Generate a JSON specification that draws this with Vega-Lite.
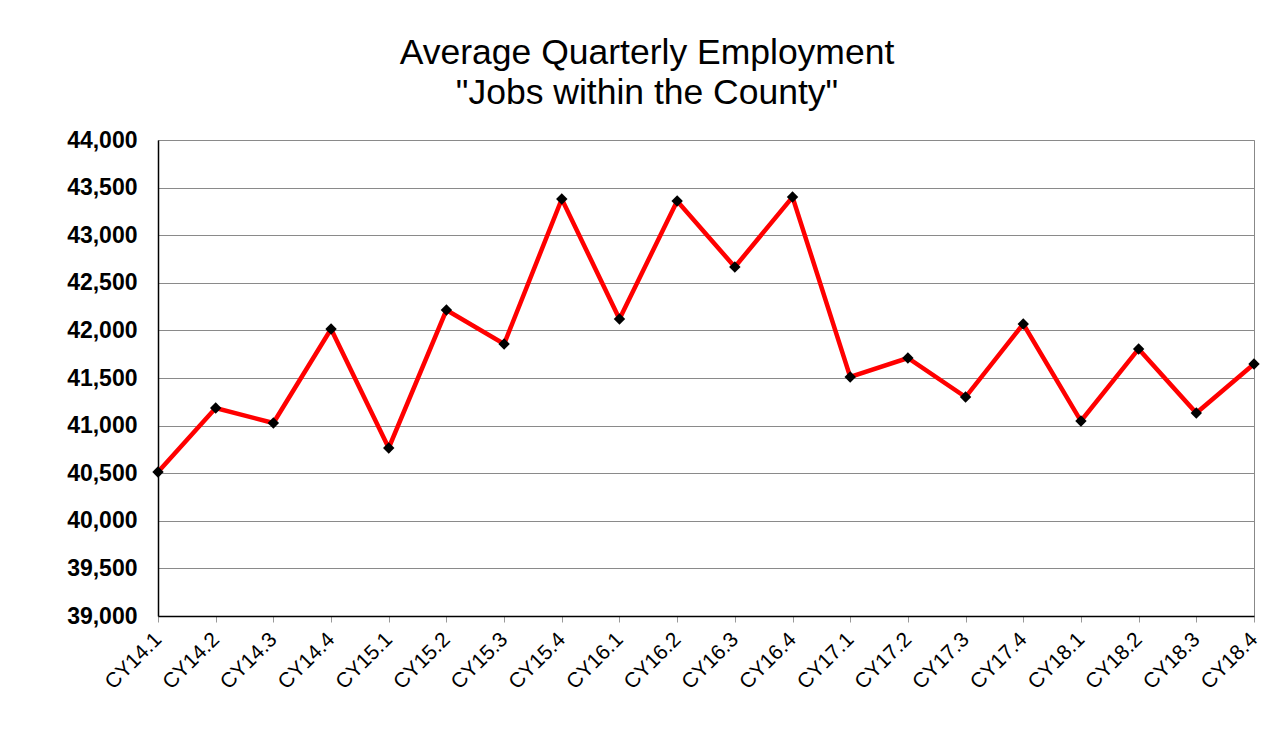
{
  "$schema": "https://vega.github.io/schema/vega-lite/v6.json",
  "autosize": {"type": "none"},
  "width": 1096,
  "height": 476,
  "padding": {"left": 158, "top": 140, "right": 30, "bottom": 115},
  "background": "white",
  "title": {
    "text": ["Average Quarterly Employment", "\"Jobs within the County\""],
    "font": "Liberation Sans",
    "fontSize": 35.5,
    "fontWeight": "normal",
    "color": "black",
    "lineHeight": 40,
    "anchor": "middle",
    "dx": -59,
    "offset": 18
  },
  "config": {
    "view": {"stroke": "#888888", "strokeWidth": 1},
    "axis": {"labelFont": "Liberation Sans", "labelColor": "black", "title": null}
  },
  "data": {
    "values": [
      {"quarter": "CY14.1", "jobs": 40513},
      {"quarter": "CY14.2", "jobs": 41185},
      {"quarter": "CY14.3", "jobs": 41027},
      {"quarter": "CY14.4", "jobs": 42015},
      {"quarter": "CY15.1", "jobs": 40765},
      {"quarter": "CY15.2", "jobs": 42214},
      {"quarter": "CY15.3", "jobs": 41857},
      {"quarter": "CY15.4", "jobs": 43380},
      {"quarter": "CY16.1", "jobs": 42120},
      {"quarter": "CY16.2", "jobs": 43359},
      {"quarter": "CY16.3", "jobs": 42666},
      {"quarter": "CY16.4", "jobs": 43401},
      {"quarter": "CY17.1", "jobs": 41511},
      {"quarter": "CY17.2", "jobs": 41710},
      {"quarter": "CY17.3", "jobs": 41300},
      {"quarter": "CY17.4", "jobs": 42067},
      {"quarter": "CY18.1", "jobs": 41048},
      {"quarter": "CY18.2", "jobs": 41805},
      {"quarter": "CY18.3", "jobs": 41132},
      {"quarter": "CY18.4", "jobs": 41647}
    ]
  },
  "encoding": {
    "x": {
      "field": "quarter",
      "type": "ordinal",
      "sort": null,
      "scale": {"type": "point", "padding": 0},
      "axis": {
        "labelAngle": -45,
        "labelAlign": "right",
        "labelBaseline": "middle",
        "labelFontSize": 21,
        "labelPadding": 14,
        "domainColor": "black",
        "domainWidth": 1.5,
        "tickColor": "#999999",
        "tickSize": 6,
        "tickOffset": 0,
        "grid": false
      }
    },
    "y": {
      "field": "jobs",
      "type": "quantitative",
      "scale": {"domain": [39000, 44000], "nice": false, "zero": false},
      "axis": {
        "values": [39000, 39500, 40000, 40500, 41000, 41500, 42000, 42500, 43000, 43500, 44000],
        "format": ",d",
        "labelFontSize": 23,
        "labelFontWeight": "bold",
        "labelPadding": 21,
        "ticks": false,
        "domainColor": "black",
        "domainWidth": 1.5,
        "grid": true,
        "gridColor": "#8a8a8a",
        "gridWidth": 1
      }
    }
  },
  "layer": [
    {"mark": {"type": "line", "color": "#ff0000", "strokeWidth": 4.5}},
    {"mark": {"type": "point", "shape": "diamond", "filled": true, "color": "black", "size": 130, "opacity": 1}}
  ]
}
